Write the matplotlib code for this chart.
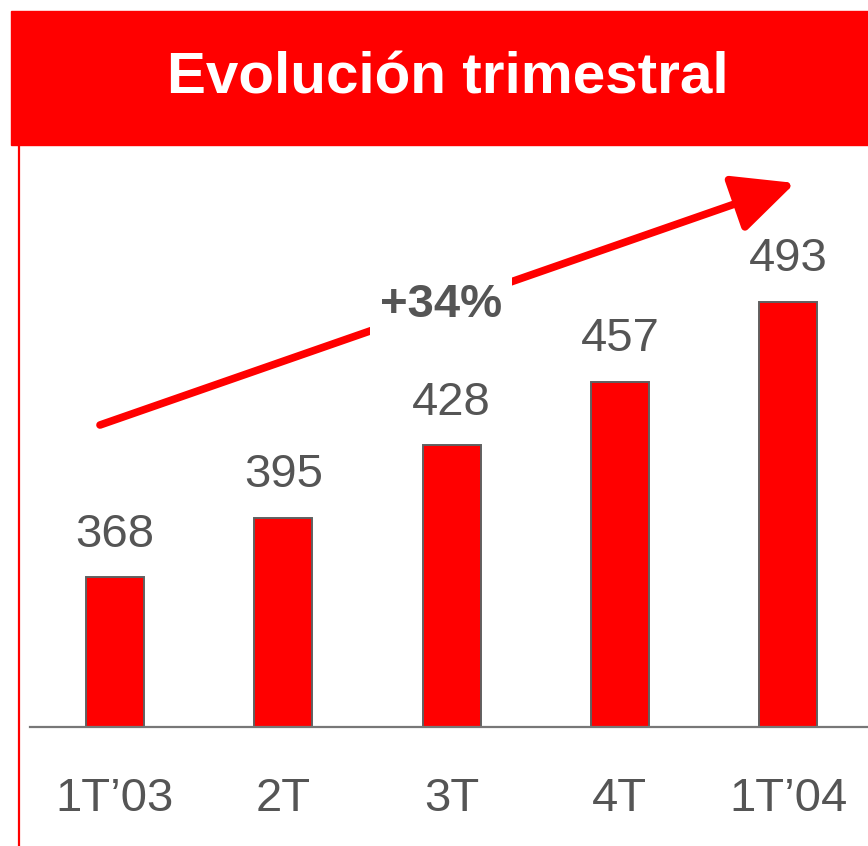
import matplotlib
matplotlib.use("Agg")
import matplotlib.pyplot as plt
from matplotlib.patches import Rectangle
from matplotlib.lines import Line2D

plt.rcParams['font.family'] = ['Liberation Sans', 'DejaVu Sans']

# trimestres y valores
quarters = ["1T\u201903", "2T", "3T", "4T", "1T\u201904"]
values = [368, 395, 428, 457, 493]
growth_label = "+34%"
title = "Evoluci\u00f3n trimestral"

RED = "#ff0000"
GREY = "#555555"

W, H = 868, 846
fig = plt.figure(figsize=(W / 100, H / 100), dpi=100)

# banda roja del titulo
fig.patches.append(Rectangle((11 / W, 1 - 145 / H), 1, 134 / H,
                             transform=fig.transFigure, color=RED, zorder=0))
fig.text(448 / W, 1 - 78 / H, title, color="white", fontsize=42,
         fontweight="bold", ha="center", va="center")

# linea vertical roja a la izquierda
fig.add_artist(Line2D([18.5 / W, 18.5 / W], [0, 1 - 145 / H],
                      color=RED, lw=1.6, transform=fig.transFigure))

ax = fig.add_axes([30 / W, 1 - 727 / H, (W - 30) / W, (727 - 145) / H])
x = list(range(len(values)))
ax.bar(x, values, width=0.345, color=RED, edgecolor="#606060", linewidth=1.4,
       zorder=2)
ax.set_xlim(-0.505, 4.474)
ax.set_ylim(300, 564.5)

for xi, v in zip(x, values):
    ax.annotate(str(v), (xi, v), xytext=(0, 15), textcoords="offset points",
                ha="center", va="bottom", fontsize=34, color=GREY)

ax.set_xticks(x)
ax.set_xticklabels(quarters, fontsize=34, color=GREY)
ax.tick_params(axis="x", length=0, pad=36)
ax.set_yticks([])
for side in ["left", "right", "top"]:
    ax.spines[side].set_visible(False)
ax.spines["bottom"].set_color("#777777")
ax.spines["bottom"].set_linewidth(1.6)

# flecha de crecimiento
ax.annotate("", xy=(795 / W, 1 - 183 / H), xytext=(100 / W, 1 - 425 / H),
            xycoords="figure fraction", textcoords="figure fraction",
            arrowprops=dict(arrowstyle="-|>,head_length=0.95,head_width=0.45",
                            color=RED, lw=5.5, mutation_scale=40,
                            shrinkA=0, shrinkB=0))
fig.text(441 / W, 1 - 305 / H, growth_label, fontsize=34, fontweight="bold",
         color=GREY, ha="center", va="center", zorder=5,
         bbox=dict(facecolor="white", edgecolor="none", pad=7))

fig.savefig("out.png", dpi=100)
